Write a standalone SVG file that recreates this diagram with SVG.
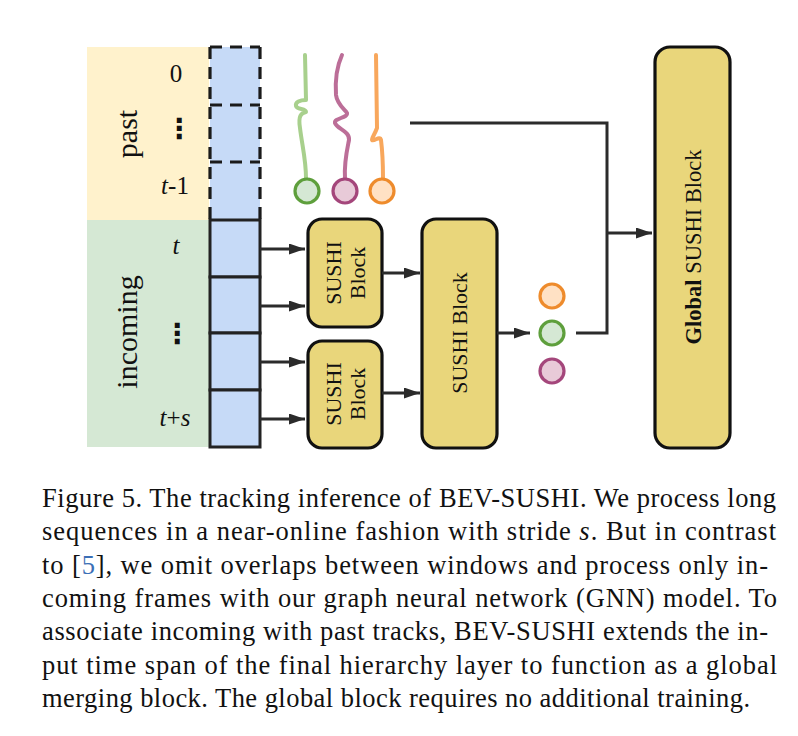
<svg xmlns="http://www.w3.org/2000/svg" width="798" height="736" viewBox="0 0 798 736">
<defs>
<style>
.serif{font-family:"Liberation Serif","Times New Roman",serif;fill:#111}
.lab{font-size:25px}
.blk{fill:#E9D67B;stroke:#111;stroke-width:3.2}
.cell{fill:#C6DAF7;stroke:#222;stroke-width:3}
.con{fill:none;stroke:#2b2b2b;stroke-width:3}
.dash{fill:none;stroke:#1a1a1a;stroke-width:3.2;stroke-dasharray:12 8}
.cap{font-family:"Liberation Serif","Times New Roman",serif;font-size:26.5px;fill:#111}
.dots{font-family:"DejaVu Sans",sans-serif;font-size:28px;font-weight:bold;fill:#111}
.trk{fill:none;stroke-width:4;stroke-linecap:round;stroke-linejoin:round}
</style>
<marker id="ah" markerUnits="userSpaceOnUse" markerWidth="16" markerHeight="11" refX="16" refY="5.5" orient="auto">
<path d="M0,0 L16,5.5 L0,11 z" fill="#2b2b2b"/>
</marker>
</defs>

<g id="past-region">
<rect x="87" y="47" width="122" height="173" fill="#FFF2CC"/>
<text class="serif" font-size="30" transform="translate(126,134) rotate(-90)" text-anchor="middle" dominant-baseline="central">past</text>
<text class="serif lab" x="176" y="82" text-anchor="middle">0</text>
<text class="dots" x="179" y="138" text-anchor="middle">⋮</text>
<text class="serif lab" x="175" y="194" text-anchor="middle"><tspan font-style="italic">t</tspan>-1</text>
</g>

<g id="incoming-region">
<rect x="87" y="220" width="122" height="227" fill="#D5E8D4"/>
<text class="serif" font-size="30" transform="translate(126,332) rotate(-90)" text-anchor="middle" dominant-baseline="central">incoming</text>
<text class="serif lab" x="176" y="254" text-anchor="middle" font-style="italic">t</text>
<text class="dots" x="177" y="343" text-anchor="middle">⋮</text>
<text class="serif lab" x="175" y="426" text-anchor="middle"><tspan font-style="italic">t</tspan>+<tspan font-style="italic">s</tspan></text>
</g>

<g id="past-frames">
<rect x="210" y="47" width="50" height="173" fill="#C6DAF7"/>
<line class="dash" x1="210" y1="47" x2="260" y2="47"/>
<line class="dash" x1="210" y1="47" x2="210" y2="220"/>
<line class="dash" x1="260" y1="47" x2="260" y2="220"/>
<line class="dash" x1="210" y1="105" x2="260" y2="105"/>
<line class="dash" x1="210" y1="162" x2="260" y2="162"/>
</g>

<g id="incoming-frames">
<rect class="cell" x="210" y="220" width="50" height="57"/>
<rect class="cell" x="210" y="277" width="50" height="56"/>
<rect class="cell" x="210" y="333" width="50" height="57"/>
<rect class="cell" x="210" y="390" width="50" height="57"/>
</g>

<g id="past-tracks">
<path class="trk" stroke="#A8D08D" d="M305,55 L306,100 C300,100 295,102 296,106 C297,110 306,108 306,112 C301,113 298,116 300,128 C302,145 306,160 306,178"/>
<path class="trk" stroke="#BC6E98" d="M342,55 C337,66 335,80 336,95 C337,104 345,110 347,113 C348,118 334,118 335,123 C337,129 350,131 349,140 C347,150 344,162 345,178"/>
<path class="trk" stroke="#F8A75C" d="M376,55 L377,128 C375,134 371,139 372,140 C374,142 380,135 381,140 C382,148 383,160 383,178"/>
<circle cx="307" cy="191" r="12" fill="#D5E8D4" stroke="#5E9F3C" stroke-width="3.2"/>
<circle cx="345" cy="191" r="12" fill="#E8CAD8" stroke="#A4467B" stroke-width="3.2"/>
<circle cx="382" cy="191" r="12" fill="#FFE1C4" stroke="#EE8B2C" stroke-width="3.2"/>
</g>

<g id="sushi-block-1">
<rect class="blk" x="308" y="219" width="74" height="108" rx="14"/>
<text class="serif" font-size="22" transform="translate(345,273) rotate(-90)" text-anchor="middle"><tspan x="0" y="-4">SUSHI</tspan><tspan x="0" y="20">Block</tspan></text>
</g>

<g id="sushi-block-2">
<rect class="blk" x="308" y="341" width="74" height="107" rx="14"/>
<text class="serif" font-size="22" transform="translate(345,394) rotate(-90)" text-anchor="middle"><tspan x="0" y="-4">SUSHI</tspan><tspan x="0" y="20">Block</tspan></text>
</g>

<g id="sushi-block-3">
<rect class="blk" x="422" y="219" width="75" height="229" rx="14"/>
<text class="serif" font-size="22" transform="translate(459,333) rotate(-90)" text-anchor="middle" dominant-baseline="central">SUSHI Block</text>
</g>

<g id="merged-tracks">
<circle cx="552" cy="296" r="12" fill="#FFE1C4" stroke="#EE8B2C" stroke-width="3.2"/>
<circle cx="552" cy="333" r="12" fill="#D5E8D4" stroke="#5E9F3C" stroke-width="3.2"/>
<circle cx="552" cy="371" r="12" fill="#E8CAD8" stroke="#A4467B" stroke-width="3.2"/>
</g>

<g id="global-sushi-block">
<rect class="blk" x="655" y="47" width="75" height="401" rx="15"/>
<text class="serif" font-size="22.5" transform="translate(693,247) rotate(-90)" text-anchor="middle" dominant-baseline="central"><tspan font-weight="bold">Global</tspan> SUSHI Block</text>
</g>

<g id="connectors">
<line class="con" x1="260" y1="249" x2="305" y2="249" marker-end="url(#ah)"/>
<line class="con" x1="260" y1="306" x2="305" y2="306" marker-end="url(#ah)"/>
<line class="con" x1="260" y1="362" x2="305" y2="362" marker-end="url(#ah)"/>
<line class="con" x1="260" y1="419" x2="305" y2="419" marker-end="url(#ah)"/>
<line class="con" x1="382" y1="273" x2="420" y2="273" marker-end="url(#ah)"/>
<line class="con" x1="382" y1="393" x2="420" y2="393" marker-end="url(#ah)"/>
<line class="con" x1="497" y1="333" x2="530" y2="333" marker-end="url(#ah)"/>
<polyline class="con" points="410,123 607,123 607,333 576,333"/>
<line class="con" x1="607" y1="233" x2="652" y2="233" marker-end="url(#ah)"/>
</g>

<g id="caption">
<text class="cap" x="42" y="507" textLength="734" lengthAdjust="spacing">Figure 5. The tracking inference of BEV-SUSHI. We process long</text>
<text class="cap" x="42" y="540" textLength="734" lengthAdjust="spacing">sequences in a near-online fashion with stride <tspan font-style="italic">s</tspan>.  But in contrast</text>
<text class="cap" x="42" y="574" textLength="726" lengthAdjust="spacing">to [<tspan fill="#3B6FB6">5</tspan>], we omit overlaps between windows and process only in-</text>
<text class="cap" x="42" y="607" textLength="735" lengthAdjust="spacing">coming frames with our graph neural network (GNN) model.  To</text>
<text class="cap" x="42" y="640" textLength="726" lengthAdjust="spacing">associate incoming with past tracks, BEV-SUSHI extends the in-</text>
<text class="cap" x="42" y="674" textLength="735" lengthAdjust="spacing">put time span of the final hierarchy layer to function as a global</text>
<text class="cap" x="42" y="707" textLength="708" lengthAdjust="spacing">merging block. The global block requires no additional training.</text>
</g>
</svg>
